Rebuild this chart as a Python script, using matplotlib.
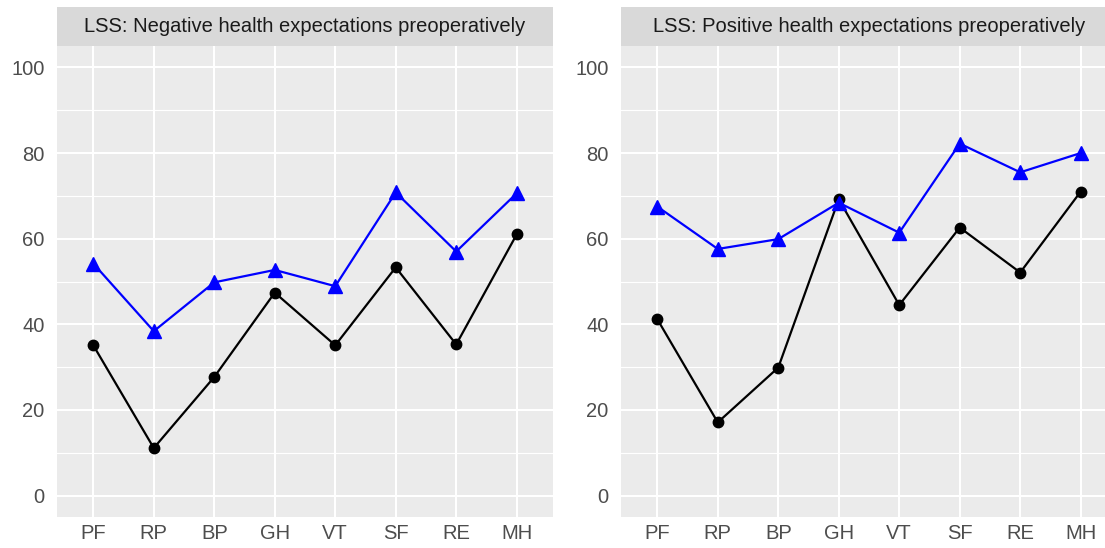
import numpy as np
import matplotlib
matplotlib.use('Agg')
import matplotlib.pyplot as plt

plt.rcParams['font.family'] = ['Liberation Sans', 'DejaVu Sans']

# SF-36 domains
domains = ['PF', 'RP', 'BP', 'GH', 'VT', 'SF', 'RE', 'MH']

# Negative health expectations preoperatively
neg_black = [35.1, 11.1, 27.7, 47.4, 35.1, 53.3, 35.3, 61.0]
neg_blue = [54.2, 38.4, 49.8, 52.7, 48.9, 70.8, 57.0, 70.6]

# Positive health expectations preoperatively
pos_black = [41.2, 17.1, 29.9, 69.2, 44.5, 62.6, 52.1, 71.0]
pos_blue = [67.5, 57.6, 59.9, 68.4, 61.4, 82.2, 75.5, 80.0]

titles = ['LSS: Negative health expectations preoperatively',
          'LSS: Positive health expectations preoperatively']

W, H = 1105, 548
fig = plt.figure(figsize=(W / 100, H / 100), dpi=100)

panels = [(57, titles[0], neg_black, neg_blue),
          (621, titles[1], pos_black, pos_blue)]

x = np.arange(len(domains))
for left, title, black, blue in panels:
    # plot area, pixel box -> figure fraction
    ax = fig.add_axes([left / W, (H - 517) / H, 496 / W, (517 - 46) / H])
    ax.set_facecolor('#EBEBEB')
    for s in ax.spines.values():
        s.set_visible(False)
    ax.set_xlim(-0.6, len(domains) - 1 + 0.6)
    ax.set_ylim(-5, 105)
    ax.set_yticks([0, 20, 40, 60, 80, 100])
    ax.set_yticks([10, 30, 50, 70, 90], minor=True)
    ax.set_xticks(x)
    ax.set_xticklabels(domains)
    ax.grid(True, which='major', color='white', linewidth=1.5)
    ax.grid(True, which='minor', axis='y', color='white', linewidth=0.8)
    ax.set_axisbelow(True)
    ax.tick_params(which='both', length=0, labelsize=14.5, labelcolor='#4D4D4D')
    ax.tick_params(axis='y', pad=9)
    ax.tick_params(axis='x', pad=5)

    ax.plot(x, black, color='black', linewidth=1.6, marker='o', markersize=7.5)
    ax.plot(x, blue, color='blue', linewidth=1.6, marker='^', markersize=9.5)

    # facet strip
    sax = fig.add_axes([left / W, (H - 46) / H, 496 / W, 39 / H])
    sax.set_facecolor('#D9D9D9')
    sax.set_xticks([])
    sax.set_yticks([])
    for s in sax.spines.values():
        s.set_visible(False)
    sax.text(0.5, 0.5, title, ha='center', va='center', fontsize=14.5,
             color='#1A1A1A', transform=sax.transAxes)

fig.savefig('out.png', dpi=100, facecolor='white')
